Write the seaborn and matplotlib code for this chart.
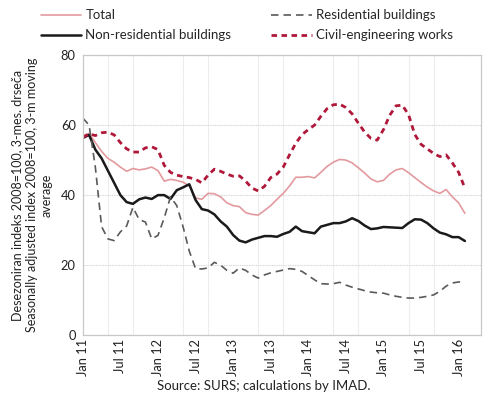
import matplotlib
matplotlib.use("Agg")
import matplotlib.pyplot as plt
from matplotlib.ticker import MultipleLocator
import seaborn as sns
import pandas as pd

# mesecni podatki, jan 2011 - feb 2016 (odcitano s slike)
months = pd.date_range("2011-01-01", "2016-02-01", freq="MS")

total = [57.0, 57.6, 55.0, 52.5, 50.5, 49.4, 48.0, 46.8, 47.6, 47.2,
         47.5, 48.0, 47.0, 44.0, 44.5, 44.2, 43.7, 42.6, 39.2, 38.8,
         40.5, 40.4, 39.5, 37.8, 37.0, 36.7, 35.0, 34.5, 34.3, 35.6,
         37.0, 38.8, 40.5, 42.6, 45.1, 45.1, 45.3, 44.9, 46.5, 48.2,
         49.4, 50.2, 50.0, 49.2, 47.8, 46.3, 44.6, 43.8, 44.2, 46.0,
         47.2, 47.6, 46.4, 45.0, 43.6, 42.3, 41.2, 40.5, 41.6, 39.5,
         37.8, 34.8]

residential = [62.0, 60.0, 48.0, 31.0, 27.5, 27.0, 29.5, 31.2, 36.5, 33.0,
               32.3, 27.5, 28.5, 33.5, 39.5, 37.0, 31.0, 24.0, 19.0, 18.9,
               19.2, 20.8, 20.0, 18.5, 17.7, 19.2, 18.5, 17.2, 16.3, 17.2,
               17.8, 18.2, 18.6, 19.0, 18.8, 18.2, 17.0, 15.8, 14.7, 14.6,
               14.7, 15.1, 14.3, 13.7, 13.2, 12.7, 12.3, 12.1, 12.0, 11.5,
               11.1, 10.8, 10.6, 10.6, 10.8, 11.1, 11.5, 12.5, 14.0, 14.9,
               15.2, 15.1]

non_residential = [56.3, 57.2, 53.0, 50.5, 47.0, 43.5, 40.0, 38.0, 37.5, 38.8,
                   39.3, 38.9, 40.0, 40.0, 38.9, 41.4, 42.2, 43.1, 38.6, 36.0,
                   35.6, 34.5, 32.5, 31.0, 28.6, 27.0, 26.5, 27.3, 27.8, 28.3,
                   28.3, 28.1, 28.9, 29.5, 31.0, 29.7, 29.4, 29.1, 31.0, 31.5,
                   32.0, 32.0, 32.5, 33.4, 32.6, 31.3, 30.3, 30.5, 30.9, 30.8,
                   30.7, 30.6, 32.0, 33.1, 33.0, 32.0, 30.5, 29.3, 28.8, 28.0,
                   28.0, 26.9]

civil = [56.5, 57.5, 57.0, 57.8, 58.0, 57.2, 55.0, 53.2, 52.3, 52.3,
         53.5, 53.8, 53.0, 48.5, 46.5, 45.7, 45.3, 45.0, 44.5, 43.5,
         45.7, 47.4, 46.8, 46.0, 45.4, 45.5, 44.0, 42.0, 41.2, 42.5,
         45.0, 46.0, 48.0, 51.5, 54.8, 57.3, 58.7, 60.0, 62.5, 64.7,
         65.8, 66.0, 65.0, 63.2, 60.5, 58.0, 56.2, 55.7, 58.7, 62.8,
         65.5, 65.7, 63.0, 57.3, 54.5, 53.2, 51.9, 51.0, 51.5, 49.2,
         46.5, 42.0]

tick_labels = ["Jan 11", "Jul 11", "Jan 12", "Jul 12", "Jan 13", "Jul 13",
               "Jan 14", "Jul 14", "Jan 15", "Jul 15", "Jan 16"]

df = pd.DataFrame({
    "idx": range(len(months)),
    "Total": total,
    "Residential buildings": residential,
    "Non-residential buildings": non_residential,
    "Civil-engineering works": civil,
})

sns.set_style("white")
plt.rcParams["font.family"] = ["Lato", "DejaVu Sans"]

fig, ax = plt.subplots(figsize=(4.9, 3.99), dpi=100)
fig.subplots_adjust(left=0.169, right=0.982, top=0.862, bottom=0.16)

# serije: barva, debelina, slog crte
styles = {
    "Total": ("#e39a9e", 1.2, "-"),
    "Non-residential buildings": ("#1a1a1a", 1.8, "-"),
    "Residential buildings": ("#5a5a5a", 1.2, (0, (4.5, 3))),
    "Civil-engineering works": ("#b0183a", 2.0, (0, (2, 1.6))),
}
for col, (c, lw, ls) in styles.items():
    sns.lineplot(data=df, x="idx", y=col, ax=ax, color=c, linewidth=lw,
                 linestyle=ls, label=col)

ax.set_xlim(0, 63.6)
ax.set_ylim(0, 80)
ax.set_yticks(range(0, 81, 20))
ax.set_xticks(range(0, 61, 6))
ax.set_xticklabels(tick_labels, rotation=90)
ax.xaxis.set_minor_locator(MultipleLocator(4))
ax.tick_params(axis="both", which="both", length=0, labelsize=9.3,
               colors="#222222", pad=3)
ax.tick_params(axis="y", pad=5)
ax.grid(axis="y", which="major", color="#d9d9d9", linewidth=0.8, linestyle=(0, (1, 0.6)))
ax.grid(axis="x", which="minor", color="#e3e3e3", linewidth=0.8, linestyle=(0, (1, 0.6)))
ax.grid(axis="x", which="major", visible=False)
for s in ax.spines.values():
    s.set_color("#c8c8c8")
    s.set_linewidth(0.9)

ax.set_xlabel("")
ax.set_ylabel("Desezoniran indeks 2008=100, 3-mes. drseča\n"
              "Seasonally adjusted index 2008=100, 3-m moving\naverage",
              fontsize=9, linespacing=1.25, color="#222222", labelpad=6)

handles, labels = ax.get_legend_handles_labels()
ax.get_legend().remove()
fig.legend(handles, labels,
           ncol=2, loc="upper left", bbox_to_anchor=(0.072, 0.99),
           frameon=False, fontsize=9.5, handlelength=3.1, handletextpad=0.3,
           columnspacing=3.0, labelspacing=0.62, borderaxespad=0.0)

fig.text(0.538, 0.032, "Source: SURS; calculations by IMAD.", ha="center",
         va="center", fontsize=9.5, color="#222222")

fig.savefig("out.png", dpi=100)
